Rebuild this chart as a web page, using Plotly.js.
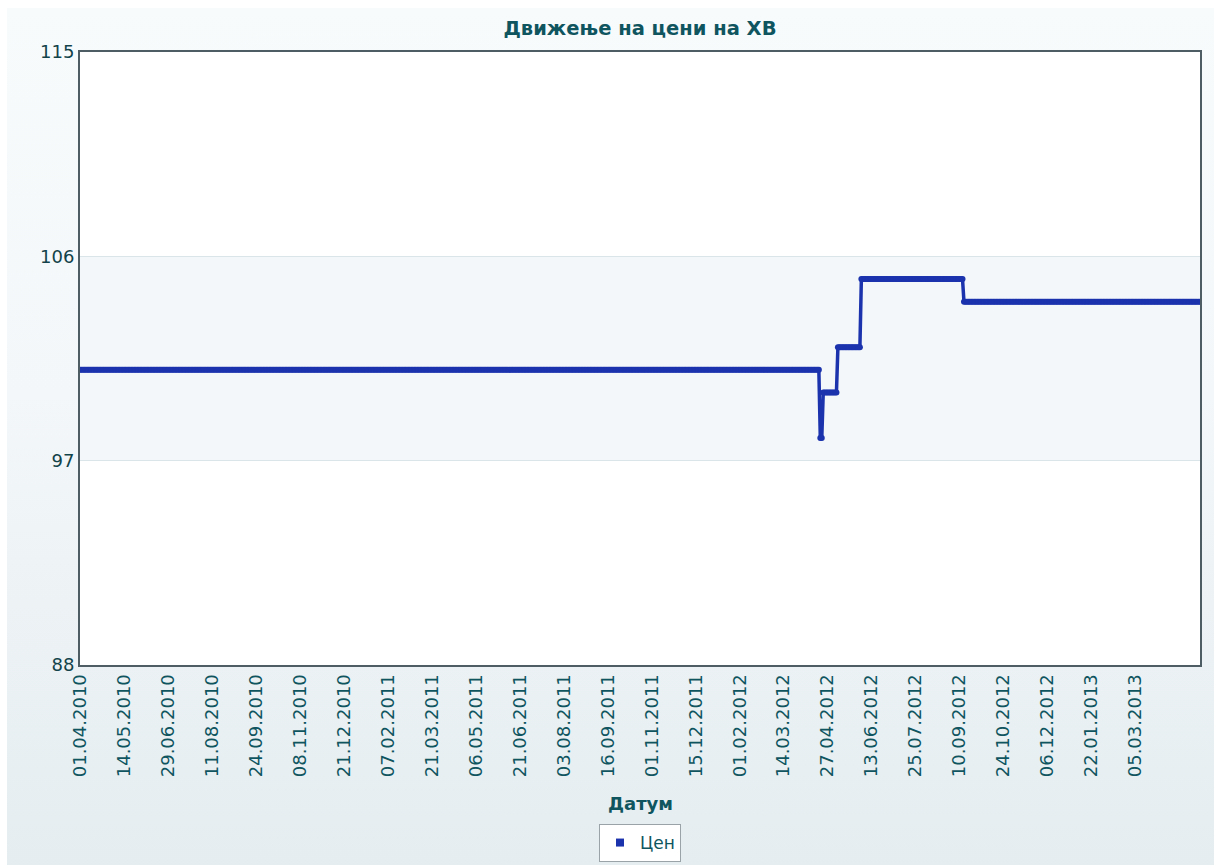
<!DOCTYPE html>
<html>
<head>
<meta charset="utf-8">
<script src="https://cdn.plot.ly/plotly-3.0.1.min.js"></script>
<style>
  html, body { margin:0; padding:0; background:#ffffff; overflow:hidden; }
  #bg { position:absolute; left:7px; top:8px; width:1207px; height:857px;
        background: linear-gradient(to bottom, #f8fbfc 0%, #f3f7f9 45%, #e5edf0 100%); }
  #chart { position:absolute; left:0; top:0; width:1214px; height:865px; }
</style>
</head>
<body>
<div id="bg"></div>
<div id="chart"></div>
<script>
// Step levels of the price and how many consecutive points each lasts
const priceLevels = [101, 98, 100, 102, 105, 104];
const levelRuns   = [505, 2, 10, 16, 70, 162];

// Category tick labels (every 30th observation)
const tickLabels = ["01.04.2010","14.05.2010","29.06.2010","11.08.2010","24.09.2010","08.11.2010",
  "21.12.2010","07.02.2011","21.03.2011","06.05.2011","21.06.2011","03.08.2011","16.09.2011",
  "01.11.2011","15.12.2011","01.02.2012","14.03.2012","27.04.2012","13.06.2012","25.07.2012",
  "10.09.2012","24.10.2012","06.12.2012","22.01.2013","05.03.2013"];
const tickStep = 30;

const yTicks = [88, 97, 106, 115];

// run-length decode into observations
const xs = [], ys = [];
let k = 0;
priceLevels.forEach((lv, i) => {
  for (let j = 0; j < levelRuns[i]; j++) { xs.push(k); ys.push(lv); k++; }
});
const tickVals = tickLabels.map((_, i) => i * tickStep);

const teal = '#0f5560';
const lineCol = '#1b33ad';

const trace = {
  x: xs, y: ys, type: 'scatter', mode: 'lines+markers', name: 'Цен', showlegend: false,
  line: { color: lineCol, width: 3.5 },
  marker: { color: lineCol, size: 6, symbol: 'circle' }
};
const legendTrace = {
  x: [null], y: [null], type: 'scatter', mode: 'markers', name: 'Цен', showlegend: true,
  marker: { color: lineCol, size: 8, symbol: 'square' }
};

const layout = {
  width: 1214, height: 865,
  margin: { l: 80, r: 14, t: 52, b: 200 },
  paper_bgcolor: 'rgba(0,0,0,0)',
  plot_bgcolor: '#ffffff',
  font: { family: 'DejaVu Sans, Verdana, sans-serif', color: teal },
  title: { text: '<b>Движење на цени на ХВ</b>', x: 0.5, xref: 'paper', y: 1 - 28 / 865, yref: 'container',
           yanchor: 'middle', font: { size: 19.5, color: teal, family: 'DejaVu Sans, Verdana, sans-serif' } },
  xaxis: {
    range: [0, xs.length - 1], tickmode: 'array', tickvals: tickVals, ticktext: tickLabels,
    tickangle: -90, tickfont: { size: 18, color: teal }, showgrid: false, zeroline: false,
    showline: true, linecolor: '#4e5c64', linewidth: 2, mirror: true, ticks: '', ticklen: 0,
    automargin: false
  },
  yaxis: {
    range: [88, 115], tickmode: 'array', tickvals: yTicks, ticktext: yTicks.map(String),
    tickfont: { size: 18, color: '#12434a' }, showgrid: true, gridcolor: '#d9e5e9', gridwidth: 1,
    zeroline: false, showline: true, linecolor: '#4e5c64', linewidth: 2, mirror: true, ticks: '',
    automargin: false
  },
  shapes: [
    { type: 'rect', xref: 'paper', yref: 'y', x0: 0, x1: 1, y0: 97, y1: 106,
      fillcolor: '#f3f7fa', line: { width: 0 }, layer: 'below' }
  ],
  annotations: [
    { text: '<b>Датум</b>', xref: 'paper', yref: 'paper', x: 0.5, y: (665 - 803) / 613,
      xanchor: 'center', yanchor: 'middle', showarrow: false, font: { size: 18, color: teal } }
  ],
  showlegend: true,
  legend: { orientation: 'h', x: 0.5, xanchor: 'center', xref: 'paper',
            y: (865 - 824) / 865, yref: 'container', yanchor: 'top',
            bgcolor: '#ffffff', bordercolor: '#9aa4a8', borderwidth: 1,
            font: { size: 17, color: teal }, itemwidth: 30 }
};

Plotly.newPlot('chart', [trace, legendTrace], layout, { displayModeBar: false, staticPlot: true });
</script>
</body>
</html>
